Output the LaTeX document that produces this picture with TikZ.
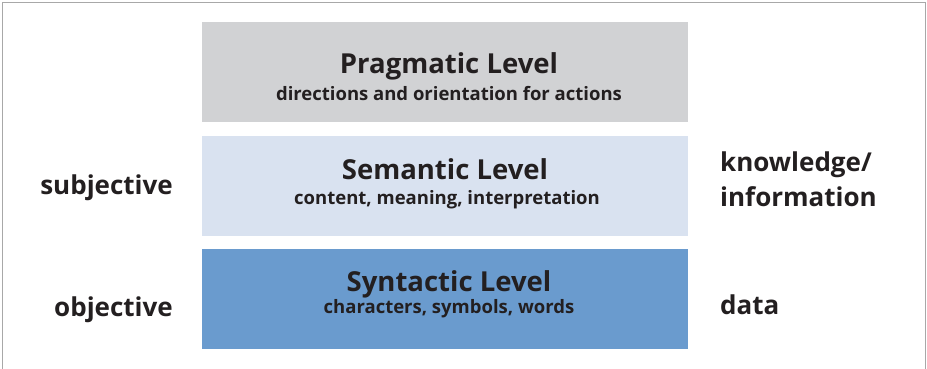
\documentclass[tikz,border=0pt]{standalone}
\usepackage{fontspec}
\setmainfont{Open Sans}
\begin{document}
\begin{tikzpicture}[x=1pt,y=-1pt,
  levelbox/.style={draw=none,minimum width=486pt,minimum height=100pt,inner sep=0pt},
  title/.style={font=\bfseries\fontsize{27.5}{30}\selectfont,text=ink,inner sep=0pt,anchor=base},
  sub/.style={font=\bfseries\fontsize{18.5}{20}\selectfont,text=ink,inner sep=0pt,anchor=base},
  side/.style={font=\bfseries\fontsize{26}{30}\selectfont,text=ink,inner sep=0pt}]
\definecolor{ink}{HTML}{231F20}
\definecolor{pragfill}{HTML}{D1D2D4}
\definecolor{semfill}{HTML}{D9E2F0}
\definecolor{synfill}{HTML}{6A9BCE}
\definecolor{framegray}{HTML}{A8A8A8}
\useasboundingbox (0,0) rectangle (927,368);
% outer frame (open at the bottom edge)
\draw[framegray,line width=1.3pt] (2.5,380) -- (2.5,2.5) -- (925.8,2.5) -- (925.8,380);
% the three levels
\node[levelbox,fill=pragfill] (prag) at (445,72) {};
\node[levelbox,fill=semfill] (sem) at (445,185.5) {};
\node[levelbox,fill=synfill] (syn) at (445,298.5) {};
\node[title] (pragT) at (449,73.3) {Pragmatic Level};
\node[sub] (pragS) at (449,100.7) {directions and orientation for actions};
\node[title] (semT) at (445,179.3) {Semantic Level};
\node[sub] (semS) at (447,204.3) {content, meaning, interpretation};
\node[title] (synT) at (449,291.7) {Syntactic Level};
\node[sub] (synS) at (449,313.3) {characters, symbols, words};
% side labels
\node[side,anchor=base east] (subj) at (173,194.5) {subjective};
\node[side,anchor=base east] (obj) at (173,316.5) {objective};
\node[side,anchor=base west] (know) at (720,171.7) {knowledge/};
\node[side,anchor=base west] (info) at (720,206.7) {information};
\node[side,anchor=base west] (data) at (720,314.5) {data};
\end{tikzpicture}
\end{document}
